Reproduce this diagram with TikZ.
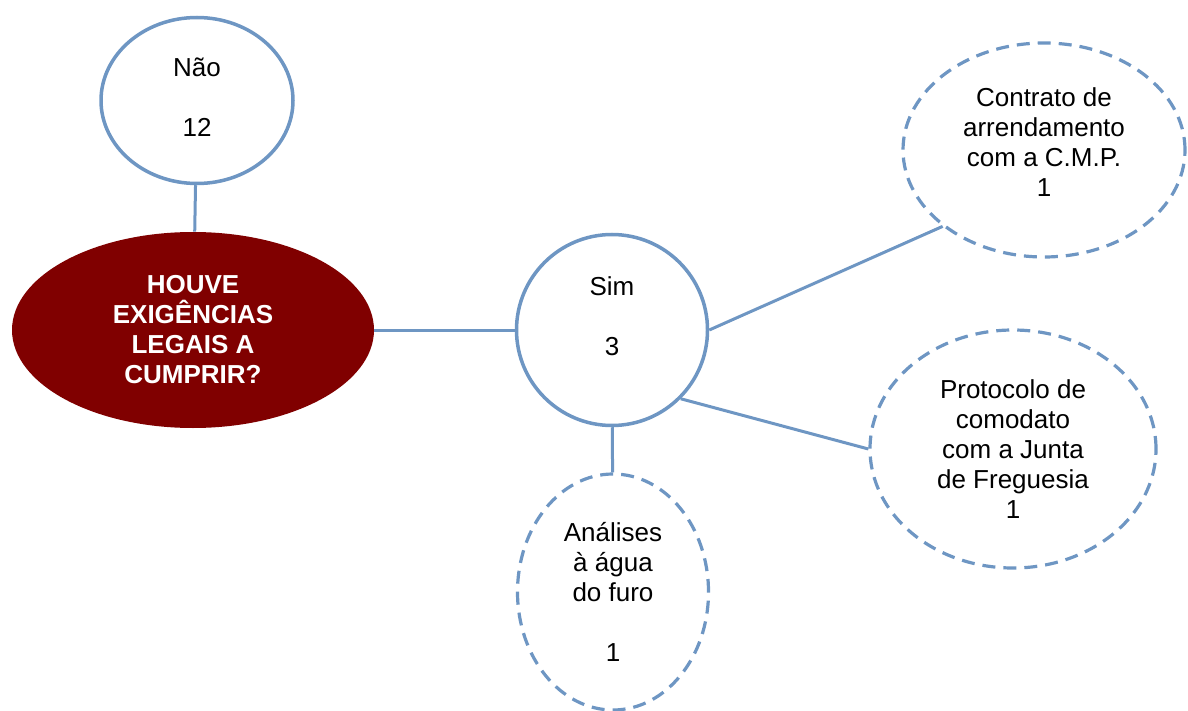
\documentclass[tikz,border=0pt]{standalone}
\usepackage{fontspec}
\setmainfont{Liberation Sans}
\usetikzlibrary{shapes.geometric}
\definecolor{edgeblue}{RGB}{110,150,195}
\definecolor{questionfill}{RGB}{128,0,0}
% extra depth below the last line, to lift a text block inside its shape
\newcommand{\lowerpad}[1]{\rule[-#1]{0pt}{0pt}}
\begin{document}
\begin{tikzpicture}[x=0.5pt,y=-0.5pt,
  bubble/.style={ellipse, draw=edgeblue, line width=1.75pt, fill=white,
    inner sep=0pt, align=center, font=\fontsize{13}{15}\selectfont},
  dashbubble/.style={bubble, line width=1.6pt, dash pattern=on 6.5pt off 4pt},
  link/.style={draw=edgeblue, line width=1.5pt},
  question/.style={ellipse, fill=questionfill, inner sep=0pt, align=center,
    text=white, font=\bfseries\fontsize{13}{15}\selectfont}]
\useasboundingbox (0,0) rectangle (1188,711);

% central question
\node[question, minimum width=181pt, minimum height=98pt] (q) at (193,330)
  {HOUVE\\EXIGÊNCIAS\\LEGAIS A\\CUMPRIR?};

% answers
\node[bubble, minimum width=96pt, minimum height=83pt] (nao) at (197,100.5)
  {Não\\[15pt]12\lowerpad{3.5pt}};
\node[bubble, minimum width=95.5pt, minimum height=95.5pt] (sim) at (612,330)
  {Sim\\[15pt]3\lowerpad{13.5pt}};

% requirements
\node[dashbubble, minimum width=141pt, minimum height=107pt] (contrato) at (1044,150)
  {Contrato de\\arrendamento\\com a C.M.P.\\1\lowerpad{8pt}};
\node[dashbubble, minimum width=143pt, minimum height=119pt] (protocolo) at (1013,449)
  {Protocolo de\\comodato\\com a Junta\\de Freguesia\\1};
\node[dashbubble, minimum width=95.5pt, minimum height=118pt] (analises) at (613,592)
  {Análises\\à água\\do furo\\[15pt]1};

% connectors
\draw[link] (nao) -- (q);
\draw[link] (q) -- (sim);
\draw[link] (sim.east) -- (contrato.217);
\draw[link] (sim.-45) -- (protocolo.west);
\draw[link] (sim) -- (analises);
\end{tikzpicture}
\end{document}
